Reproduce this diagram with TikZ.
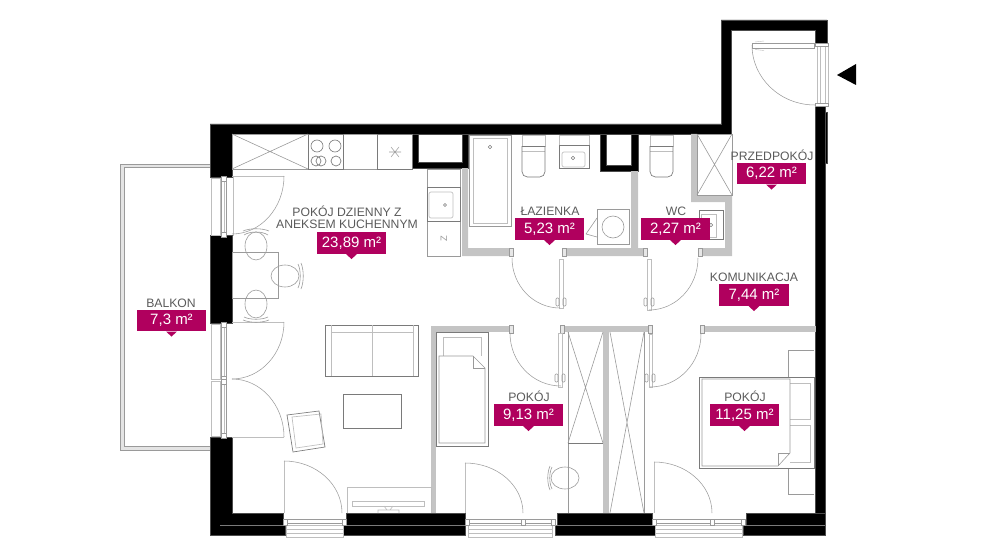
\documentclass[tikz,border=0pt]{standalone}
\usepackage{fontspec}
\setmainfont{Liberation Sans}
\definecolor{tagc}{HTML}{B0005E}
\definecolor{wallg}{HTML}{C4C4C4}
\definecolor{labc}{HTML}{5A5A5A}
\definecolor{dk}{HTML}{7A7A7A}
\definecolor{md}{HTML}{9A9A9A}
\definecolor{lt}{HTML}{BEBEBE}
\tikzset{
  blackwall/.style={fill=black,draw=black!70,line width=0.3pt},
  greywall/.style={fill=wallg,draw=none},
  dark/.style={draw=dk,line width=0.5pt},
  mid/.style={draw=md,line width=0.45pt},
  light/.style={draw=lt,line width=0.5pt},
  swingarc/.style={draw=md,line width=0.4pt},
  capbox/.style={fill=white,draw=md,line width=0.35pt},
  roomlabel/.style={text=labc,font=\fontsize{9.15}{11}\selectfont,inner sep=0pt},
  tagbox/.style={fill=tagc,text=white,font=\fontsize{11.25}{13}\selectfont,inner sep=0pt,minimum width=51.9pt,minimum height=16.2pt},
}
\newcommand{\swing}[4]{({#1+#3},{#2}) .. controls ({#1+#3},{#2+0.5523*#4}) and ({#1+0.5523*#3},{#2+#4}) .. ({#1},{#2+#4})}
\newcommand{\roomtag}[4]{\node[tagbox] (#1) at (#2,#3) {#4};
  \fill[tagc] ([xshift=-4pt]#1.south) -- ([yshift=-3.8pt]#1.south) -- ([xshift=4pt]#1.south) -- cycle;}
\newcommand{\vwin}[2]{%
  \draw[light,fill=white] (211,#1) rectangle (220,#2);
  \draw[mid,fill=white] (221,#1) rectangle (226,#2);
  \draw[light] (224,#1) -- (224,#2);
  \draw[capbox] (221,#1-2) rectangle (226,#1+3);
  \draw[capbox] (221,#2-3) rectangle (226,#2+2);}
\newcommand{\hwin}[2]{%
  \draw[mid,fill=white] (#1+3,519) rectangle (#2-3,523);
  \draw[light,fill=white] (#1+3,525) rectangle (#2-3,537);
  \draw[light] (#1+3,529) -- (#2-3,529) (#1+3,533) -- (#2-3,533);
  \draw[capbox] (#1,519) rectangle (#1+4,525);
  \draw[capbox] (#2-4,519) rectangle (#2,525);}
\newcommand{\vhandle}[2]{%
  \draw[md,line width=0.4pt,rounded corners=0.8pt] (#1-5,#2-4) rectangle (#1-2,#2+4);
  \draw[md,line width=0.4pt,rounded corners=0.8pt] (#1+2,#2-4) rectangle (#1+5,#2+4);}
\begin{document}
\begin{tikzpicture}[x=0.75pt,y=-0.75pt]
\useasboundingbox (0,0) rectangle (993,560);
%--- balcony
\fill[wallg!45] (120,164) rectangle (124,450) (120,446) rectangle (210,450) (120,164) rectangle (210,167);
\draw[md,line width=0.45pt] (210,164) -- (120,164) -- (120,450) -- (210,450);
\draw[mid] (210,167) -- (124,167) -- (124,446) -- (210,446);
%--- black walls
\path[blackwall] (210,124) -- (721,124) -- (721,20) -- (827,20) -- (827,45) -- (815,45) -- (815,30) -- (731,30) -- (731,134) -- (232,134) -- (232,177) -- (210,177) -- cycle;
\path[blackwall] (815,104) rectangle (825,513);
\path[blackwall] (825,112) rectangle (827,163);
\path[blackwall] (210,235) rectangle (232,323);
\path[blackwall] (210,437) -- (232,437) -- (232,513) -- (283,513) -- (283,525) -- (285,525) -- (285,535) -- (210,535) -- cycle;
\path[blackwall] (346,513) -- (465,513) -- (465,535) -- (342,535) -- (342,525) -- (346,525) -- cycle;
\path[blackwall] (557,513) -- (652,513) -- (652,525) -- (655,525) -- (655,535) -- (555,535) -- (555,525) -- (557,525) -- cycle;
\path[blackwall] (746,513) -- (825,513) -- (825,535) -- (743,535) -- (743,525) -- (746,525) -- cycle;
\draw[dk,line width=0.4pt] (220,525) -- (285,525) (342,525) -- (465,525) (555,525) -- (655,525) (743,525) -- (825,525);
\path[blackwall] (412,134) -- (418,134) -- (418,162) -- (462,162) -- (462,134) -- (468,134) -- (468,168) -- (412,168) -- cycle;
\path[blackwall] (600,134) -- (606,134) -- (606,165) -- (631,165) -- (631,134) -- (638,134) -- (638,171) -- (600,171) -- cycle;
%--- grey walls
\path[greywall] (462,168) -- (468,168) -- (468,248) -- (513,248) -- (513,256) -- (462,256) -- cycle;
\path[greywall] (562,248) -- (631,248) -- (631,171) -- (638,171) -- (638,248) -- (647,248) -- (647,256) -- (562,256) -- cycle;
\path[greywall] (691,134) -- (697,134) -- (697,196) -- (732,196) -- (732,256) -- (698,256) -- (698,248) -- (725,248) -- (725,202) -- (691,202) -- cycle;
\path[greywall] (431,326) rectangle (512,332);
\path[greywall] (431,326) rectangle (436,513);
\path[greywall] (560,326) rectangle (652,332);
\path[greywall] (603,332) rectangle (609,513);
\path[greywall] (700,326) rectangle (816,332);
%--- end caps of partition walls
\foreach \cx/\cy in {511/252,564/252,645/252,700/252,511/329,562/329,650/329,702/329}
  \draw[capbox,fill=wallg!40] (\cx-2,\cy-4) rectangle (\cx+2,\cy+4);
%--- windows and entrance
\vwin{178}{235}
\vwin{324}{379}
\vwin{381}{436}
\hwin{283}{346}
\hwin{465}{555}
\draw[capbox] (521,519) rectangle (525,525);
\hwin{652}{745}
\draw[capbox] (710,519) rectangle (714,525);
\draw[light,fill=white] (817,45) rectangle (828,104);
\draw[light] (820,45) -- (820,104) (825,45) -- (825,104);
\draw[capbox] (815,43) rectangle (828,46);
\draw[capbox] (815,103) rectangle (828,106);
\fill[black] (837,75) -- (856,64) -- (856,85) -- cycle;
%--- door leaves
\draw[light] (232,176) -- (284,176) (233,176) -- (233,236);
\draw[swingarc] \swing{232}{176}{52}{58};
\draw[light] (232,322) -- (284,322);
\draw[swingarc] \swing{232}{322}{52}{57};
\draw[swingarc] \swing{232}{437}{52}{-58};
\draw[light] (232,437) -- (284,437);
\draw[light] (284,461) -- (284,513);
\draw[swingarc] \swing{284}{513}{58}{-52};
\draw[light] (465,463) -- (465,513);
\draw[swingarc] \swing{465}{513}{58}{-50};
\draw[light] (654,462) -- (654,513);
\draw[swingarc] \swing{654}{513}{58}{-51};
\draw[light] (559,259) rectangle (563,308);
\vhandle{561}{302}
\draw[swingarc] \swing{560}{258}{-48}{50};
\draw[light] (647,259) rectangle (651,310);
\vhandle{649}{302}
\draw[swingarc] \swing{649}{258}{49}{52};
\draw[light] (558,333) rectangle (562,387);
\vhandle{560}{378}
\draw[swingarc] \swing{561}{333}{-51}{53};
\draw[light] (649,334) rectangle (652,387);
\vhandle{650}{378}
\draw[swingarc] \swing{650}{334}{51}{53};
\draw[mid,line width=0.4pt,fill=white] (752,43.5) rectangle (814,48);
\draw[lt,line width=0.3pt] (755,42) -- (764,41) (755,49.5) -- (764,50.5);
\draw[swingarc] \swing{815}{45}{-63}{60};
%--- kitchen
\draw[mid] (232,134) rectangle (412,169);
\draw[mid] (232,134) -- (308,169) (232,169) -- (308,134);
\draw[dark] (308,134) rectangle (343,169);
\draw[dark] (377,134) rectangle (412,169);
\foreach \cx/\cy/\cr in {317/146/6,335/146/6,316/161/5,321/161/5,336/161/5}
  \draw[dark] (\cx,\cy) circle[radius=\cr];
\draw[md,line width=0.4pt] (389,152) -- (401,152) (391,147) -- (399,157) (399,147) -- (391,157);
\draw[mid] (427,169) rectangle (460,256);
\draw[dark] (427,187) rectangle (460,221);
\draw[light,rounded corners=1.5pt] (429,192) rectangle (453,218);
\draw[dk,line width=0.4pt] (445,205) circle[radius=1.4];
\node[inner sep=0pt,text=md,font=\fontsize{7}{8}\selectfont,rotate=90] (zmark) at (444,239) {Z};
%--- bathroom
\draw[mid] (469,135) rectangle (511,226);
\draw[light] (473,138) rectangle (507,223);
\draw[dk,line width=0.4pt] (490,147) circle[radius=1.7];
\draw[light] (522,135) rectangle (545,146);
\draw[light] (522,151) -- (545,151);
\draw[dark,rounded corners=4pt] (522,146) -- (522,177) -- (545,177) -- (545,146);
\draw[dark] (522,146) -- (545,146);
\draw[light] (559,135) rectangle (589,145);
\draw[dark] (559,145) rectangle (589,168);
\draw[light,rounded corners=1.5pt] (562,152) rectangle (585,167);
\draw[dk,line width=0.4pt] (573,158) circle[radius=1.7];
\draw[mid] (597,209) rectangle (629,244);
\draw[mid] (613,227) circle[radius=11];
\draw[mid] (597,218) -- (586,234) -- (597,237);
%--- wc
\draw[light] (650,135) rectangle (673,146);
\draw[light] (650,151) -- (673,151);
\draw[dark,rounded corners=4pt] (650,146) -- (650,177) -- (673,177) -- (673,146);
\draw[dark] (650,146) -- (673,146);
\draw[dark] (699,210) rectangle (723,239);
\draw[light] (701,214) rectangle (716,237);
\draw[dk,line width=0.4pt] (711,225) circle[radius=1.7];
\draw[mid] (697,134) rectangle (732,195);
\draw[mid] (697,134) -- (732,195) (732,134) -- (697,195);
%--- dining
\draw[mid] (232,252) rectangle (278,298);
\draw[mid] (256,246) ellipse[x radius=11,y radius=14];
\draw[mid] (285,276) ellipse[x radius=14,y radius=11];
\draw[mid] (256,304) ellipse[x radius=11,y radius=14];
\draw[mid] (244,235) .. controls (250,231) and (262,231) .. (268,235);
\draw[mid] (243,231) .. controls (250,228) and (262,228) .. (269,231);
\draw[mid] (298,264) .. controls (301,270) and (301,282) .. (298,288);
\draw[mid] (301,263) .. controls (304,270) and (304,282) .. (301,289);
\draw[mid] (244,317) .. controls (250,320) and (262,320) .. (268,317);
\draw[mid] (243,320) .. controls (250,323) and (262,323) .. (269,320);
%--- living room
\draw[dark] (325,325) rectangle (418,376);
\draw[light] (331,325) -- (331,376) (413,325) -- (413,376) (331,332) -- (413,332) (372,325) -- (372,376);
\draw[dark] (343,394) rectangle (401,428);
\draw[dark] (287,415) -- (319,411) -- (325,447) -- (293,452) -- cycle;
\draw[light] (292,417) -- (321,414) -- (323,444) -- (296,448) -- cycle;
\draw[light] (347,513) -- (347,487) -- (431,487) -- (431,513);
\draw[light] (352,501) rectangle (424,506);
\draw[light] (384,506) -- (387,510) (393,506) -- (390,510) (378,513) -- (378,510) -- (399,510) -- (399,513);
%--- room 9,13
\draw[dark] (436,332) rectangle (488,446);
\draw[light] (443,356) -- (443,337) -- (481,337) -- (481,356);
\draw[mid] (439,356) -- (473,356) -- (485,368) -- (485,443) -- (439,443) -- cycle;
\draw[mid] (473,356) -- (473,368) -- (485,368);
\draw[mid] (568,332) -- (568,513);
\draw[dark] (568,443) -- (603,443);
\draw[mid] (568,332) -- (603,443) (603,332) -- (568,443);
\draw[mid] (644,332) -- (644,513);
\draw[mid] (610,332) -- (644,513) (644,332) -- (610,513);
\draw[mid] (565,478) ellipse[x radius=14,y radius=11];
\draw[mid] (552,467) .. controls (549,473) and (549,483) .. (552,489);
\draw[mid] (550,466) .. controls (547,473) and (547,483) .. (550,490);
%--- room 11,25
\draw[mid] (788,377) -- (788,350) -- (814,350);
\draw[mid] (788,468) -- (788,494) -- (814,494);
\draw[dark] (699,377) rectangle (814,468);
\draw[light] (790,383) -- (810,383) -- (810,419) -- (790,419);
\draw[light] (790,425) -- (810,425) -- (810,462) -- (790,462);
\draw[mid] (702,379) -- (790,379) -- (790,453) -- (778,466) -- (702,466) -- cycle;
\draw[mid] (790,453) -- (778,453) -- (778,466);
%--- labels
\node[roomlabel] (l1) at (347,211) {POKÓJ DZIENNY Z};
\node[roomlabel] (l2) at (347,224.5) {ANEKSEM KUCHENNYM};
\node[roomlabel] (l3) at (550,211) {ŁAZIENKA};
\node[roomlabel] (l4) at (676,211) {WC};
\node[roomlabel] (l5) at (772,155) {PRZEDPOKÓJ};
\node[roomlabel] (l6) at (754,277) {KOMUNIKACJA};
\node[roomlabel] (l7) at (171,303) {BALKON};
\node[roomlabel] (l8) at (529,396) {POKÓJ};
\node[roomlabel] (l9) at (745,396) {POKÓJ};
\roomtag{t1}{351.5}{243}{23,89 m²}
\roomtag{t2}{549.5}{229}{5,23 m²}
\roomtag{t3}{675.5}{229}{2,27 m²}
\roomtag{t4}{771.5}{173.5}{6,22 m²}
\roomtag{t5}{171.5}{320.5}{7,3 m²}
\roomtag{t6}{528.5}{415}{9,13 m²}
\roomtag{t7}{754}{295}{7,44 m²}
\roomtag{t8}{744.5}{415}{11,25 m²}
\end{tikzpicture}
\end{document}
